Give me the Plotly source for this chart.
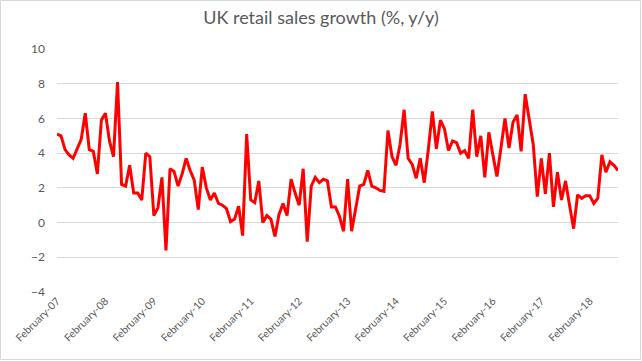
import plotly.graph_objects as go

month_names = ["February", "March", "April", "May", "June", "July", "August",
               "September", "October", "November", "December", "January"]
start_year = 2007
n_points = 140

growth = [
    5.1, 5.0, 4.2, 3.9, 3.7, 4.2, 4.8, 6.3, 4.2, 4.1, 2.8, 5.9,
    6.3, 4.7, 3.8, 8.1, 2.2, 2.1, 3.3, 1.7, 1.7, 1.3, 4.0, 3.8,
    0.4, 0.85, 2.6, -1.6, 3.1, 2.95, 2.1, 2.8, 3.7, 3.0, 2.45, 0.75,
    3.2, 2.0, 1.3, 1.7, 1.1, 1.0, 0.8, 0.05, 0.2, 0.95, -0.75, 5.1,
    1.3, 1.15, 2.4, 0.0, 0.4, 0.2, -0.8, 0.45, 1.1, 0.4, 2.5, 1.7,
    1.0, 3.1, -1.1, 2.1, 2.6, 2.3, 2.5, 2.4, 0.9, 0.9, 0.35, -0.5,
    2.5, -0.5, 0.75, 2.1, 2.2, 3.0, 2.1, 2.0, 1.85, 1.8, 5.3, 3.8,
    3.3, 4.5, 6.5, 3.7, 3.35, 2.55, 3.7, 2.3, 4.2, 6.4, 4.25, 5.9,
    5.4, 4.15, 4.7, 4.6, 4.0, 4.15, 3.7, 6.5, 3.8, 5.0, 2.6, 5.2,
    3.9, 2.65, 4.3, 6.0, 4.3, 5.8, 6.2, 4.1, 7.4, 6.0, 4.5, 1.5,
    3.7, 1.65, 4.0, 0.9, 2.9, 1.3, 2.4, 1.0, -0.35, 1.6, 1.4, 1.55,
    1.55, 1.1, 1.4, 3.9, 2.9, 3.5, 3.3, 3.0,
]

categories = []
for i in range(n_points):
    name = month_names[i % 12]
    yr = start_year + (i + 1) // 12
    categories.append(f"{name}-{yr % 100:02d}")

tick_labels = [c for c in categories if c.startswith("February")]
y_ticks = [-4, -2, 0, 2, 4, 6, 8, 10]

fig = go.Figure()
fig.add_trace(go.Scatter(
    x=categories, y=growth, mode="lines",
    line=dict(color="#ff0000", width=3),
    hoverinfo="x+y",
))

W, H = 642, 361
ml, mr, mt, mb = 57, 24, 49, 69
pw, ph = W - ml - mr, H - mt - mb

fig.update_layout(
    width=W, height=H,
    margin=dict(l=ml, r=mr, t=mt, b=mb, autoexpand=False),
    paper_bgcolor="white", plot_bgcolor="white",
    showlegend=False,
    title=dict(text="UK retail sales growth (%, y/y)", x=0.5, xanchor="center",
               y=1 - 18 / H, yanchor="middle",
               font=dict(family="Lato, Open Sans, sans-serif", size=18, color="#595959")),
    font=dict(family="Lato, Open Sans, sans-serif", size=12, color="#595959"),
    xaxis=dict(
        type="category", range=[0, n_points - 1], automargin=False,
        tickmode="array", tickvals=tick_labels, ticktext=tick_labels,
        tickangle=-45, showgrid=False, zeroline=False, showline=False,
        ticks="", tickfont=dict(size=10.5, color="#595959"),
    ),
    yaxis=dict(
        range=[-4, 10], tickvals=y_ticks, showgrid=True, gridcolor="#d9d9d9",
        gridwidth=1, zeroline=True, zerolinecolor="#d9d9d9", zerolinewidth=1,
        showline=False, ticks="", ticklabelstandoff=11, automargin=False,
        tickfont=dict(size=12, color="#595959"),
    ),
    shapes=[dict(type="rect", xref="paper", yref="paper",
                 x0=-(ml - 0.5) / pw, x1=1 + (mr - 1.5) / pw,
                 y0=-(mb - 1.5) / ph, y1=1 + (mt - 0.5) / ph,
                 line=dict(color="#d9d9d9", width=1), layer="below")],
)

fig.write_html("out.html",
               config={"displayModeBar": False},
               post_script="document.body.style.margin='0';document.body.style.padding='0';")
